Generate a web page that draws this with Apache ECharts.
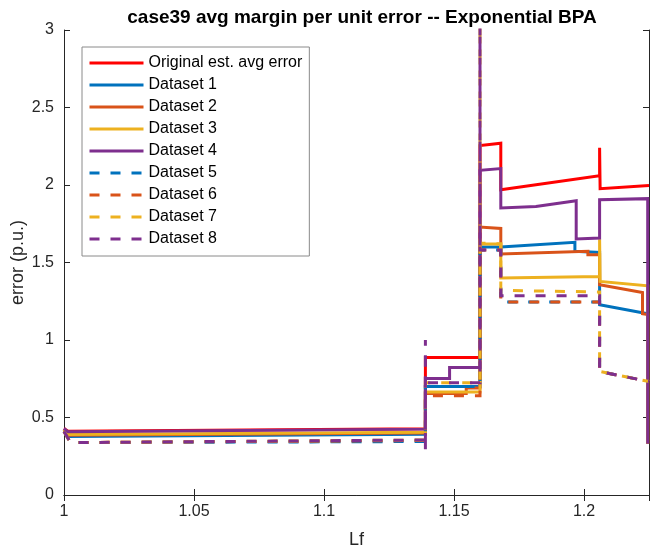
<!DOCTYPE html>
<html>
<head>
<meta charset="utf-8">
<script src="https://cdn.jsdelivr.net/npm/echarts@6/dist/echarts.min.js"></script>
<style>
  html, body { margin: 0; padding: 0; background: #fff; }
  #chart { width: 650px; height: 552px; }
</style>
</head>
<body>
<div id="chart"></div>
<script>
// Axis layout values
const xMin = 1.0, xMax = 1.225, xStep = 0.05;
const yMin = 0, yMax = 3, yStep = 0.5;

// Series names (legend order)
const seriesNames = [
  'Original est. avg error', 'Dataset 1', 'Dataset 2', 'Dataset 3', 'Dataset 4',
  'Dataset 5', 'Dataset 6', 'Dataset 7', 'Dataset 8'
];

// Each series: [Lf, error] pairs
const original = [[1.0,0.43],[1.0015,0.412],[1.139,0.427],[1.139,0.887],[1.16,0.887],[1.16,2.254],[1.168,2.27],[1.168,1.97],[1.206,2.06],[1.206,2.24],[1.2062,1.976],[1.225,1.996]];
const dataset1 = [[1.0,0.42],[1.0015,0.378],[1.139,0.392],[1.139,0.70],[1.16,0.70],[1.16,1.60],[1.168,1.60],[1.168,1.604],[1.1965,1.63],[1.1965,1.572],[1.206,1.565],[1.206,1.227],[1.2245,1.17]];
const dataset2 = [[1.0,0.42],[1.0015,0.385],[1.139,0.40],[1.139,0.655],[1.1547,0.655],[1.1547,0.69],[1.16,0.69],[1.16,1.729],[1.168,1.72],[1.168,1.555],[1.2015,1.572],[1.2015,1.55],[1.206,1.55],[1.206,1.357],[1.2225,1.307],[1.2225,1.17],[1.2245,1.165],[1.2245,0.33]];
const dataset3 = [[1.0,0.42],[1.0015,0.39],[1.139,0.405],[1.139,0.665],[1.16,0.665],[1.16,1.62],[1.168,1.62],[1.168,1.40],[1.206,1.41],[1.206,1.65],[1.2062,1.378],[1.2245,1.35],[1.2245,0.33]];
const dataset4 = [[1.0,0.43],[1.0015,0.408],[1.139,0.425],[1.139,0.752],[1.1483,0.752],[1.1483,0.822],[1.16,0.822],[1.16,2.095],[1.168,2.106],[1.168,1.852],[1.1815,1.862],[1.1815,1.872],[1.197,1.899],[1.197,1.652],[1.206,1.658],[1.206,1.905],[1.2245,1.912],[1.2245,0.33]];
const dataset5 = [[1.0,0.41],[1.0025,0.338],[1.139,0.345],[1.139,0.70],[1.16,0.70],[1.16,1.58],[1.168,1.58],[1.168,1.245],[1.206,1.245],[1.206,0.797],[1.225,0.732]];
const dataset6 = [[1.0,0.41],[1.0025,0.338],[1.139,0.352],[1.139,0.64],[1.16,0.64],[1.16,1.58],[1.168,1.58],[1.168,1.245],[1.206,1.245],[1.206,0.797],[1.225,0.732]];
const dataset7 = [[1.0,0.41],[1.0025,0.338],[1.139,0.355],[1.139,0.725],[1.16,0.725],[1.16,3.3],[1.16,1.625],[1.168,1.62],[1.168,1.32],[1.206,1.31],[1.206,0.797],[1.225,0.732]];
const dataset8 = [[1.0,0.41],[1.0025,0.338],[1.139,0.355],[1.139,1.0],[1.139,0.28],[1.139,0.725],[1.16,0.725],[1.16,3.3],[1.16,1.58],[1.168,1.58],[1.168,1.285],[1.206,1.285],[1.206,0.797],[1.225,0.732]];

const seriesData = [original, dataset1, dataset2, dataset3, dataset4, dataset5, dataset6, dataset7, dataset8];
const seriesColors = ['#FF0000', '#0072BD', '#D95319', '#EDB120', '#7E2F8E', '#0072BD', '#D95319', '#EDB120', '#7E2F8E'];
const seriesDashed = [false, false, false, false, false, true, true, true, true];

const FONT = '"Liberation Sans", Arial, Helvetica, sans-serif';
const AXIS_COLOR = '#262626';
const DASH = [10, 11];
const LINE_W = 3;

const series = seriesNames.map((name, i) => ({
  name,
  type: 'line',
  data: seriesData[i],
  symbol: 'none',
  showSymbol: false,
  clip: true,
  animation: false,
  lineStyle: {
    color: seriesColors[i],
    width: LINE_W,
    type: seriesDashed[i] ? DASH : 'solid',
    cap: 'butt',
    join: 'miter'
  },
  itemStyle: { color: seriesColors[i] }
}));

const fmt = v => String(+(+v).toFixed(3));

const option = {
  backgroundColor: '#fff',
  animation: false,
  title: {
    text: 'case39 avg margin per unit error -- Exponential BPA',
    left: 357, top: 3,
    textAlign: 'center',
    textStyle: { fontFamily: FONT, fontSize: 19, fontWeight: 'bold', color: '#000' }
  },
  grid: { left: 64, right: 1, top: 30, bottom: 57, containLabel: false, outerBoundsMode: 'none' },
  legend: {
    orient: 'vertical',
    left: 82, top: 47,
    itemWidth: 54, itemHeight: 14, itemGap: 6,
    padding: [8, 7, 9, 6],
    borderColor: '#8a8a8a', borderWidth: 1, borderRadius: 0,
    backgroundColor: '#fff',
    selectedMode: false,
    data: seriesNames,
    itemStyle: { color: 'rgba(0,0,0,0)', borderWidth: 0, borderColor: 'rgba(0,0,0,0)' },
    lineStyle: { width: LINE_W },
    textStyle: { fontFamily: FONT, fontSize: 16, color: '#000' }
  },
  xAxis: [{
    type: 'value', min: xMin, max: xMax, interval: xStep,
    name: 'Lf', nameLocation: 'middle', nameGap: 36,
    nameTextStyle: { fontFamily: FONT, fontSize: 18, color: '#262626' },
    axisLine: { show: true, lineStyle: { color: AXIS_COLOR, width: 1 } },
    axisTick: { show: true, inside: true, length: 6, lineStyle: { color: AXIS_COLOR } },
    axisLabel: { fontFamily: FONT, fontSize: 16, color: '#262626', margin: 9, formatter: fmt, showMaxLabel: false },
    splitLine: { show: false }
  }, {
    type: 'value', min: xMin, max: xMax, interval: xStep, position: 'top',
    axisLine: { show: true, lineStyle: { color: AXIS_COLOR, width: 1 } },
    axisTick: { show: true, inside: true, length: 6, lineStyle: { color: AXIS_COLOR } },
    axisLabel: { show: false },
    splitLine: { show: false }
  }],
  yAxis: [{
    type: 'value', min: yMin, max: yMax, interval: yStep,
    name: 'error (p.u.)', nameLocation: 'middle', nameGap: 37, nameMoveOverlap: false,
    nameTextStyle: { fontFamily: FONT, fontSize: 18, color: '#262626' },
    axisLine: { show: true, lineStyle: { color: AXIS_COLOR, width: 1 } },
    axisTick: { show: true, inside: true, length: 6, lineStyle: { color: AXIS_COLOR } },
    axisLabel: { fontFamily: FONT, fontSize: 16, color: '#262626', margin: 10, formatter: fmt },
    splitLine: { show: false }
  }, {
    type: 'value', min: yMin, max: yMax, interval: yStep, position: 'right',
    axisLine: { show: true, lineStyle: { color: AXIS_COLOR, width: 1 } },
    axisTick: { show: true, inside: true, length: 6, lineStyle: { color: AXIS_COLOR } },
    axisLabel: { show: false },
    splitLine: { show: false }
  }],
  series
};

const chart = echarts.init(document.getElementById('chart'), null, { renderer: 'canvas' });
chart.setOption(option);
</script>
</body>
</html>
